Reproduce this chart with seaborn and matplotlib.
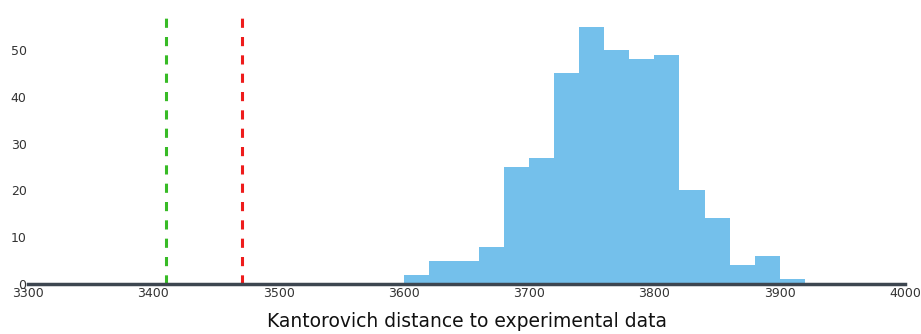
import numpy as np
import pandas as pd
import matplotlib
matplotlib.use("Agg")
import matplotlib.pyplot as plt
import seaborn as sns

# histogram: bins of width 20 from 3600 to 3920
bin_edges = list(range(3600, 3921, 20))
counts = [2, 5, 5, 8, 25, 27, 45, 55, 50, 48, 49, 20, 14, 4, 6, 1]
green_line = 3410
red_line = 3471
x_ticks = [3300, 3400, 3500, 3600, 3700, 3800, 3900, 4000]
y_ticks = [0, 10, 20, 30, 40, 50]

df = pd.DataFrame({
    "distance": [(a + b) / 2 for a, b in zip(bin_edges[:-1], bin_edges[1:])],
    "count": counts,
})

sns.set_style("white")
plt.rcParams["font.family"] = ["DejaVu Sans"]

fig = plt.figure(figsize=(9.21, 3.34), dpi=100)
ax = fig.add_axes([28 / 921, 1 - 284 / 334, (905 - 28) / 921, (284 - 13) / 334])

sns.histplot(data=df, x="distance", weights="count", bins=bin_edges,
             color="#74c0eb", alpha=1, edgecolor="none", linewidth=0, ax=ax)

ax.axvline(green_line, color="#38bb26", linestyle=(0, (3, 3)), linewidth=2.2, zorder=3)
ax.axvline(red_line, color="#ee1c1c", linestyle=(0, (3, 3)), linewidth=2.2, zorder=3)

ax.set_xlim(3300, 4000)
ax.set_ylim(0, 57.9)
ax.set_xticks(x_ticks)
ax.set_yticks(y_ticks)
ax.tick_params(axis="both", length=0, labelsize=9, colors="#333333")
ax.tick_params(axis="x", pad=2)
ax.tick_params(axis="y", pad=1)

for s in ["top", "right", "left"]:
    ax.spines[s].set_visible(False)
ax.spines["bottom"].set_color("#3d4650")
ax.spines["bottom"].set_linewidth(2.5)
ax.spines["bottom"].set_zorder(4)

ax.set_ylabel("")
ax.set_xlabel("Kantorovich distance to experimental data", fontsize=13.5, color="#111111", labelpad=9)

fig.savefig("out.png", dpi=100)
